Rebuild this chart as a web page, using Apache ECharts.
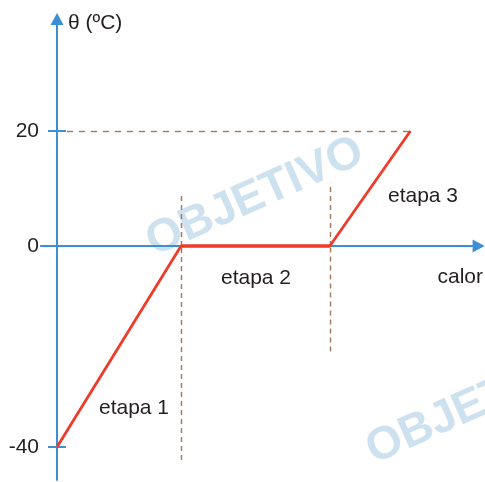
<!DOCTYPE html>
<html><head><meta charset="utf-8">
<script src="https://cdn.jsdelivr.net/npm/echarts@6/dist/echarts.min.js"></script>
<style>html,body{margin:0;padding:0;background:#fff}#c{width:485px;height:482px}</style>
</head><body><div id="c"></div>
<script>
// ---- data ----
const heat = [0, 20, 44, 57];            // heat supplied (arbitrary units)
const temperature = [-40, 0, 0, 20];     // θ (ºC)
const upperTicks = [0, 20];
const lowerTicks = [-40];
const tickMarksUpper = [20];
const tickMarksLower = [-40];
const stageNames = ['etapa 1', 'etapa 2', 'etapa 3'];
const yName = 'θ (ºC)';
const xName = 'calor';
const refTemp = 20;
const guideHeat = [20, 44];
const guideTop = [9, 11];
const guideBottom = [-42.6, -21];
const watermark = 'OBJETIVO';

// ---- styles ----
const BLUE = '#3b8fd4', RED = '#ef3b2a', BROWN = '#a0785a', TXT = '#231f20';
const FONT = '"Liberation Sans", Arial, sans-serif';

const upperPts = [], lowerPts = [];
heat.forEach((h, i) => {
  if (temperature[i] >= 0) upperPts.push([h, temperature[i]]);
  if (temperature[i] <= 0) lowerPts.push([h, temperature[i]]);
});

const XMIN = -2.6, XMAX = 68;
const gridLeft = 40.9, pxPerUnit = 6.2;
const gridW = (XMAX - XMIN) * pxPerUnit;
const yOff = XMIN * pxPerUnit; // negative offset moves axis right onto heat = 0

const ARROW = 'path://M0,0 L10,20 L-10,20 Z';

function xAx(idx, show) {
  return {
    type: 'value', gridIndex: idx, min: XMIN, max: XMAX, show: show,
    position: 'bottom',
    axisLine: { show: true, onZero: false, symbol: ['none', 'triangle'], symbolSize: [13, 12],
      lineStyle: { color: BLUE, width: 2 } },
    axisTick: { show: false }, axisLabel: { show: false }, splitLine: { show: false }
  };
}
function yAx(idx, min, max, opts) {
  return Object.assign({
    type: 'value', gridIndex: idx, min: min, max: max, position: 'left',
    offset: yOff,
    axisLine: { show: true, onZero: false, lineStyle: { color: BLUE, width: 2 } },
    splitLine: { show: false }
  }, opts);
}

const lineStyleDash = (t) => ({ color: BROWN, width: 1.4, type: t });
const labelFont = { color: TXT, fontSize: 21, fontFamily: FONT };

const option = {
  animation: false,
  backgroundColor: '#fff',
  grid: [
    { left: gridLeft, top: 19, width: gridW, height: 227, outerBoundsMode: 'none', containLabel: false },
    { left: gridLeft, top: 246, width: gridW, height: 234, outerBoundsMode: 'none', containLabel: false }
  ],
  xAxis: [xAx(0, true), xAx(1, false)],
  yAxis: [
    yAx(0, 0, 227 / 5.75, {
      axisLine: { show: true, onZero: false, symbol: ['none', 'triangle'], symbolSize: [13, 12],
        lineStyle: { color: BLUE, width: 2 } },
      axisTick: { show: true, length: 9, customValues: tickMarksUpper, lineStyle: { color: BLUE, width: 2 } },
      axisLabel: Object.assign({ show: true, customValues: upperTicks, margin: 18 }, labelFont)
    }),
    yAx(0, 0, 227 / 5.75, {
      axisLine: { show: false },
      axisTick: { show: true, inside: true, length: 9, customValues: tickMarksUpper, lineStyle: { color: BLUE, width: 2 } },
      axisLabel: { show: false }
    }),
    yAx(1, -234 / 5.025, 0, {
      axisTick: { show: true, length: 9, customValues: tickMarksLower, lineStyle: { color: BLUE, width: 2 } },
      axisLabel: Object.assign({ show: true, customValues: lowerTicks, margin: 18 }, labelFont)
    }),
    yAx(1, -234 / 5.025, 0, {
      axisLine: { show: false },
      axisTick: { show: true, inside: true, length: 9, customValues: tickMarksLower, lineStyle: { color: BLUE, width: 2 } },
      axisLabel: { show: false }
    })
  ],
  graphic: [
    { type: 'text', x: 255, y: 197, rotation: 0.42, z: 0, silent: true,
      style: { text: watermark, fill: 'rgba(165,200,225,0.55)', font: 'bold 46px ' + FONT, textAlign: 'center', textVerticalAlign: 'middle' } },
    { type: 'text', x: 475, y: 405, rotation: 0.42, z: 0, silent: true,
      style: { text: watermark, fill: 'rgba(165,200,225,0.55)', font: 'bold 46px ' + FONT, textAlign: 'center', textVerticalAlign: 'middle' } },
    { type: 'text', x: 68, y: 23, z: 10, style: { text: yName, fill: TXT, font: '21px ' + FONT, textAlign: 'left', textVerticalAlign: 'middle' } },
    { type: 'text', x: 483, y: 277, z: 10, style: { text: xName, fill: TXT, font: '21px ' + FONT, textAlign: 'right', textVerticalAlign: 'middle' } },
    { type: 'text', x: 134, y: 408, z: 10, style: { text: stageNames[0], fill: TXT, font: '21px ' + FONT, textAlign: 'center', textVerticalAlign: 'middle' } },
    { type: 'text', x: 256, y: 278, z: 10, style: { text: stageNames[1], fill: TXT, font: '21px ' + FONT, textAlign: 'center', textVerticalAlign: 'middle' } },
    { type: 'text', x: 423, y: 196, z: 10, style: { text: stageNames[2], fill: TXT, font: '21px ' + FONT, textAlign: 'center', textVerticalAlign: 'middle' } }
  ],
  series: [
    {
      type: 'line', xAxisIndex: 0, yAxisIndex: 0, data: upperPts, showSymbol: false, clip: false, z: 5,
      lineStyle: { color: RED, width: 2.8 },
      markLine: {
        silent: true, symbol: ['none', 'none'], label: { show: false },
        data: [
          [{ coord: [1.6, refTemp], lineStyle: lineStyleDash([6, 6]) }, { coord: [heat[3], refTemp] }],
          [{ coord: [guideHeat[0], 0], lineStyle: lineStyleDash([5, 4]) }, { coord: [guideHeat[0], guideTop[0]] }],
          [{ coord: [guideHeat[1], 0], lineStyle: lineStyleDash([5, 4]) }, { coord: [guideHeat[1], guideTop[1]] }]
        ]
      }
    },
    {
      type: 'line', xAxisIndex: 1, yAxisIndex: 2, data: lowerPts, showSymbol: false, clip: false, z: 5,
      lineStyle: { color: RED, width: 2.8 },
      markLine: {
        silent: true, symbol: ['none', 'none'], label: { show: false },
        data: [
          [{ coord: [guideHeat[0], guideBottom[0]], lineStyle: lineStyleDash([5, 4]) }, { coord: [guideHeat[0], 0] }],
          [{ coord: [guideHeat[1], guideBottom[1]], lineStyle: lineStyleDash([5, 4]) }, { coord: [guideHeat[1], 0] }]
        ]
      }
    }
  ]
};
echarts.init(document.getElementById('c'), null, { renderer: 'canvas' }).setOption(option);
</script>
</body></html>
